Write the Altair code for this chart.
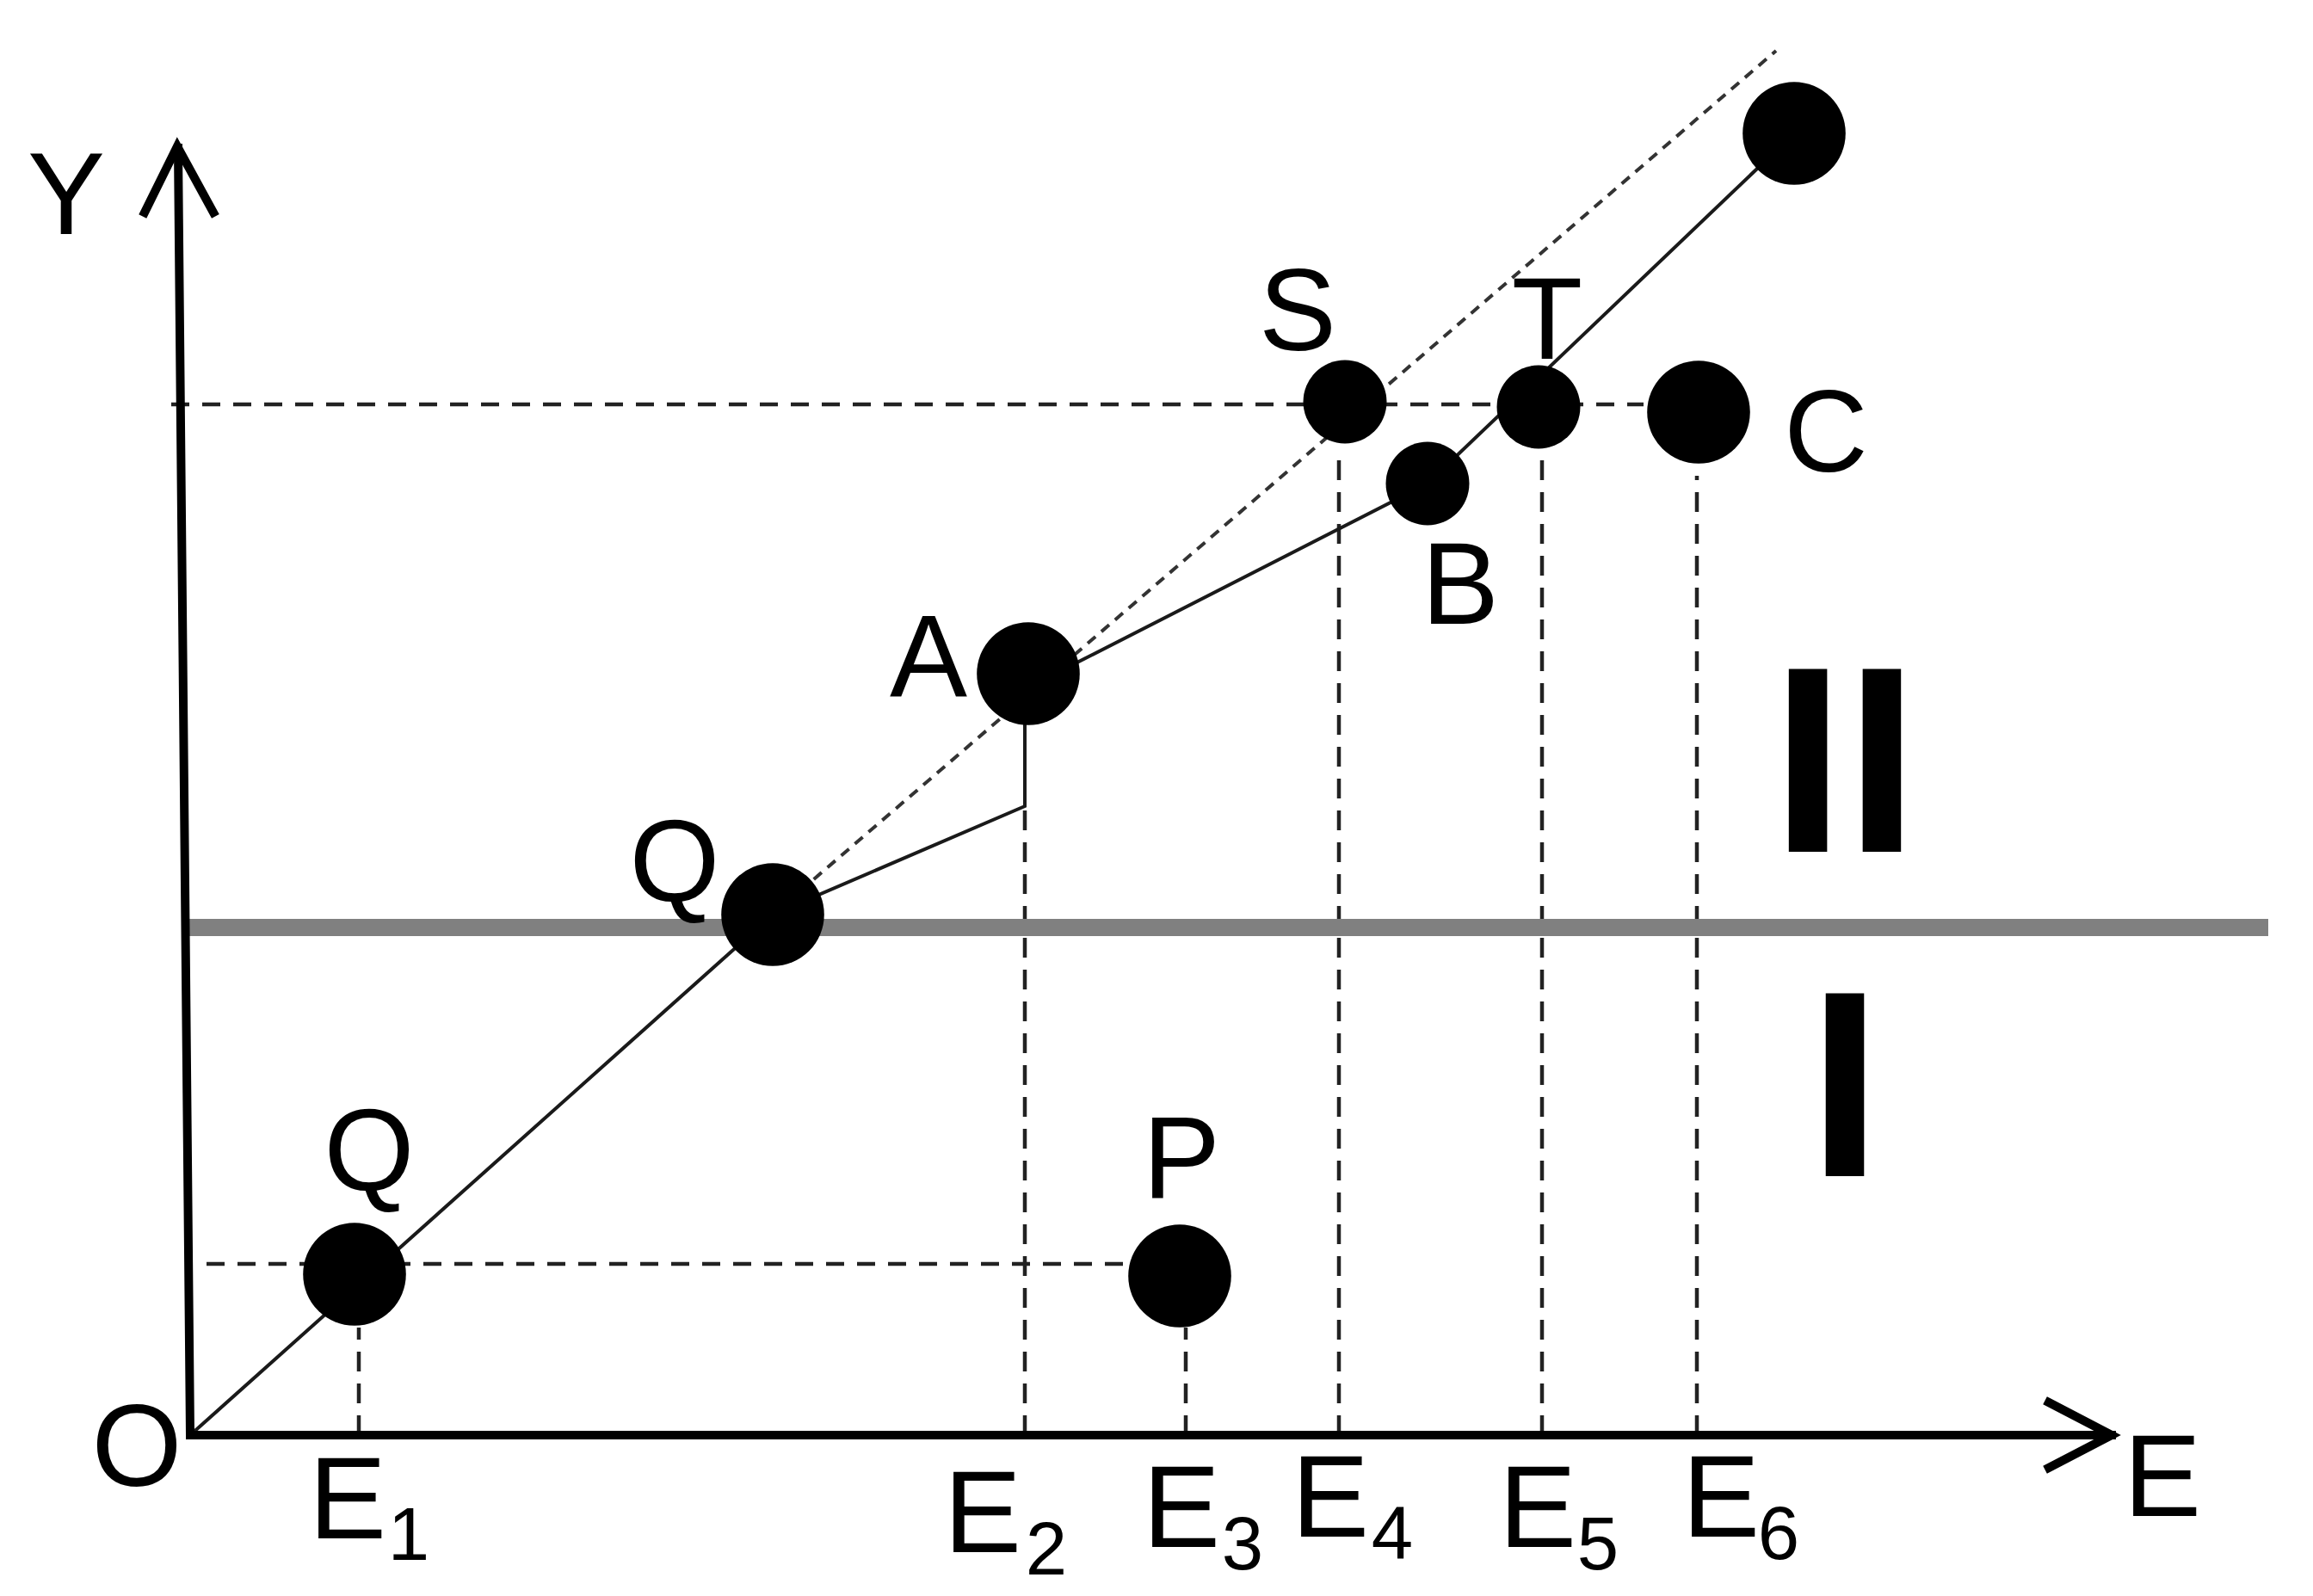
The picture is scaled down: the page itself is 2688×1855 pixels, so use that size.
import altair as alt
import pandas as pd

# ---- diagram coordinates (E along x, Y along y), origin at O ----
# points
big_names = ["Q1", "Q2", "A", "P", "C", "R"]
big_x = [1.91, 6.77, 9.74, 11.50, 17.53, 18.64]
big_y = [1.87, 6.05, 8.85, 1.85, 11.89, 15.13]
small_names = ["S", "T", "B"]
small_x = [13.42, 15.67, 14.38]
small_y = [12.01, 11.95, 11.06]

# solid path O -> Q -> kink -> A -> B -> top
solid_x = [0.0, 6.77, 9.70, 9.70, 14.38, 18.64]
solid_y = [0.0, 6.05, 7.31, 8.67, 11.06, 15.13]

# dashed diagonal Q -> beyond S
diag_x = [6.77, 18.43]
diag_y = [6.05, 16.09]

# axes and arrowheads
yaxis_x = [0.0, -0.14]
yaxis_y = [0.0, 14.96]
eaxis_x = [0.0, 22.33]
eaxis_y = [0.0, 0.0]
yarrow_x = [-0.53, -0.15, 0.27]
yarrow_y = [14.21, 14.98, 14.21]
earrow_x = [21.60, 22.33, 21.60]
earrow_y = [0.38, 0.0, -0.38]

# threshold line between regions I and II
threshold_y = 5.90
threshold_x0, threshold_x1 = -0.08, 24.15

# dashed verticals (E1..E6)
vert_x = [1.96, 9.70, 11.57, 13.35, 15.71, 17.51]
vert_top = [1.25, 7.31, 1.25, 11.47, 11.47, 11.15]

# dashed horizontals
hor_y = [11.98, 1.99]
hor_x0 = [-0.22, 0.19]
hor_x1 = [16.89, 10.95]

# labels
lab_text = ["Y", "O", "Q", "Q", "A", "P", "S", "T", "B", "C", "E",
            "E", "E", "E", "E", "E", "E"]
lab_x = [-1.44, -0.62, 2.08, 5.63, 8.58, 11.52, 12.87, 15.77, 14.76, 19.01, 22.92,
         1.83, 9.21, 11.52, 13.25, 15.66, 17.79]
lab_y = [13.96, -0.59, 2.85, 6.21, 8.59, 2.76, 12.61, 12.51, 9.43, 11.20, -0.94,
         -1.20, -1.36, -1.30, -1.18, -1.30, -1.18]

sub_text = ["1", "2", "3", "4", "5", "6"]
sub_x = [2.54, 9.95, 12.23, 13.97, 16.36, 18.46]
sub_y = [-1.45, -1.62, -1.56, -1.44, -1.56, -1.44]

roman_text = ["II", "I"]
roman_x = [19.23, 19.23]
roman_y = [6.78, 3.01]

# ---- scales ----
xs = alt.Scale(domain=[-2.13, 24.59], nice=False, zero=False)
ys = alt.Scale(domain=[-1.79, 16.60], nice=False, zero=False)


def path_df(pieces):
    rows = []
    for name, px, py in pieces:
        for i, (a, b) in enumerate(zip(px, py)):
            rows.append({"seg": name, "idx": i, "x": a, "y": b})
    return pd.DataFrame(rows)


def line_layer(df, **mk):
    return alt.Chart(df).mark_line(**mk).encode(
        x=alt.X("x:Q", scale=xs, axis=None),
        y=alt.Y("y:Q", scale=ys, axis=None),
        detail="seg:N",
        order="idx:Q",
    )


axes_df = path_df([("yaxis", yaxis_x, yaxis_y), ("eaxis", eaxis_x, eaxis_y),
                   ("yarrow", yarrow_x, yarrow_y), ("earrow", earrow_x, earrow_y)])
solid_df = path_df([("solid", solid_x, solid_y)])
diag_df = path_df([("diag", diag_x, diag_y)])

vert_df = pd.DataFrame({"x": vert_x, "y": [0.0] * len(vert_x), "y2": vert_top})
hor_df = pd.DataFrame({"y": hor_y, "x": hor_x0, "x2": hor_x1})
thr_df = pd.DataFrame({"y": [threshold_y], "x": [threshold_x0], "x2": [threshold_x1]})

big_df = pd.DataFrame({"name": big_names, "x": big_x, "y": big_y})
small_df = pd.DataFrame({"name": small_names, "x": small_x, "y": small_y})
lab_df = pd.DataFrame({"t": lab_text, "x": lab_x, "y": lab_y})
sub_df = pd.DataFrame({"t": sub_text, "x": sub_x, "y": sub_y})
rom_df = pd.DataFrame({"t": roman_text, "x": roman_x, "y": roman_y})

vert = alt.Chart(vert_df).mark_rule(color="#222222", strokeWidth=4.5, strokeDash=[23, 14]).encode(
    x=alt.X("x:Q", scale=xs, axis=None),
    y=alt.Y("y:Q", scale=ys, axis=None),
    y2="y2:Q",
)
hor = alt.Chart(hor_df).mark_rule(color="#222222", strokeWidth=4.5, strokeDash=[21, 15]).encode(
    y=alt.Y("y:Q", scale=ys, axis=None),
    x=alt.X("x:Q", scale=xs, axis=None),
    x2="x2:Q",
)
thr = alt.Chart(thr_df).mark_rule(color="#808080", strokeWidth=20).encode(
    y=alt.Y("y:Q", scale=ys, axis=None),
    x=alt.X("x:Q", scale=xs, axis=None),
    x2="x2:Q",
)
diag = line_layer(diag_df, color="#333333", strokeWidth=4, strokeDash=[12, 9])
solid = line_layer(solid_df, color="#1a1a1a", strokeWidth=4)
axes = line_layer(axes_df, color="black", strokeWidth=10, strokeCap="square", strokeJoin="miter")

big = alt.Chart(big_df).mark_circle(color="black", opacity=1, size=14300).encode(
    x=alt.X("x:Q", scale=xs, axis=None),
    y=alt.Y("y:Q", scale=ys, axis=None),
)
small = alt.Chart(small_df).mark_circle(color="black", opacity=1, size=9400).encode(
    x=alt.X("x:Q", scale=xs, axis=None),
    y=alt.Y("y:Q", scale=ys, axis=None),
)

labels = alt.Chart(lab_df).mark_text(
    font="Liberation Sans", fontSize=135, color="black", align="center", baseline="alphabetic"
).encode(
    x=alt.X("x:Q", scale=xs, axis=None),
    y=alt.Y("y:Q", scale=ys, axis=None),
    text="t:N",
)
subs = alt.Chart(sub_df).mark_text(
    font="Liberation Sans", fontSize=87, color="black", align="center", baseline="alphabetic"
).encode(
    x=alt.X("x:Q", scale=xs, axis=None),
    y=alt.Y("y:Q", scale=ys, axis=None),
    text="t:N",
)
roman = alt.Chart(rom_df).mark_text(
    font="Liberation Sans", fontSize=309, fontWeight="bold", color="black",
    align="center", baseline="alphabetic"
).encode(
    x=alt.X("x:Q", scale=xs, axis=None),
    y=alt.Y("y:Q", scale=ys, axis=None),
    text="t:N",
)

chart = alt.layer(
    vert, hor, diag, thr, solid, axes, big, small, labels, subs, roman
).properties(
    width=2672, height=1839, padding=0, autosize=alt.AutoSizeParams(type="none")
).configure_view(stroke=None)

chart.save("out.html", embed_options={"renderer": "svg", "actions": False})
